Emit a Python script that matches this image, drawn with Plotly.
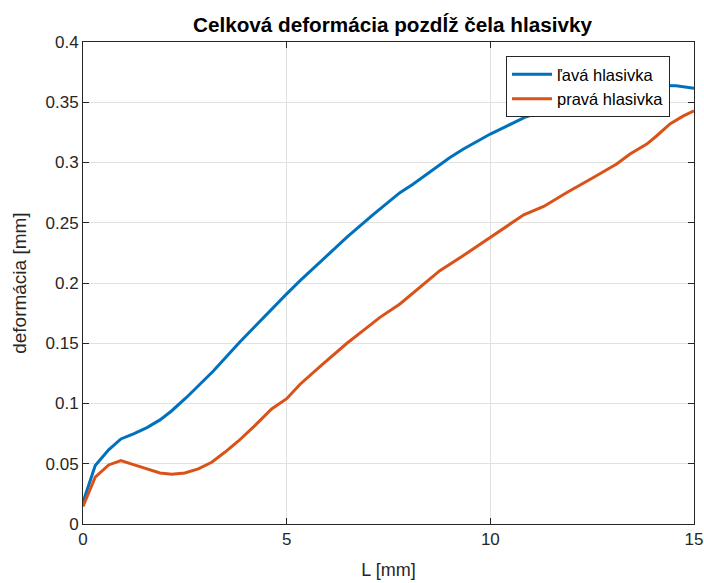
import plotly.graph_objects as go

# Total deformation along the vocal fold edge
x_left = [0.0, 0.30, 0.63, 0.93, 1.24, 1.57, 1.89, 2.18, 2.54, 3.2, 3.85, 4.5, 5.0, 5.33,
          5.82, 6.48, 7.13, 7.54, 7.78, 8.1, 8.43, 9.0, 9.33, 10.0, 10.39, 10.88, 11.29,
          11.6, 12.0, 12.5, 13.0, 13.5, 14.0, 14.56, 15.0]
y_left = [0.018, 0.0485, 0.0615, 0.0706, 0.0748, 0.080, 0.0864, 0.094, 0.105, 0.127, 0.151,
          0.174, 0.191, 0.202, 0.217, 0.238, 0.257, 0.268, 0.275, 0.282, 0.290, 0.304, 0.311,
          0.3236, 0.330, 0.338, 0.3423, 0.3456, 0.350, 0.355, 0.359, 0.362, 0.364, 0.3636,
          0.3617]

x_right = [0.0, 0.30, 0.63, 0.93, 1.24, 1.57, 1.89, 2.18, 2.5, 2.83, 3.16, 3.48, 3.81, 4.22,
           4.63, 5.0, 5.33, 5.9, 6.48, 6.97, 7.29, 7.78, 8.27, 8.76, 9.33, 10.0, 10.33, 10.82,
           11.31, 11.88, 12.53, 13.1, 13.43, 13.84, 14.08, 14.41, 14.74, 15.0]
y_right = [0.0145, 0.0388, 0.049, 0.0527, 0.0493, 0.0458, 0.0424, 0.0413, 0.0424, 0.0458,
           0.0512, 0.0595, 0.0687, 0.0817, 0.0955, 0.104, 0.116, 0.133, 0.150, 0.163, 0.1715,
           0.1826, 0.1964, 0.2102, 0.2226, 0.2378, 0.2448, 0.2566, 0.2635, 0.2751, 0.2876,
           0.2987, 0.307, 0.3153, 0.322, 0.332, 0.3387, 0.3429]

x_ticks = [0, 5, 10, 15]
y_ticks = [0, 0.05, 0.1, 0.15, 0.2, 0.25, 0.3, 0.35, 0.4]
y_labels = ["0", "0.05", "0.1", "0.15", "0.2", "0.25", "0.3", "0.35", "0.4"]

FONT = "Liberation Sans, Arial, Helvetica, sans-serif"
INK = "#262626"

fig = go.Figure()
fig.add_trace(go.Scatter(x=x_left, y=y_left, mode="lines", name="ľavá hlasivka",
                         line=dict(color="#0072BD", width=3)))
fig.add_trace(go.Scatter(x=x_right, y=y_right, mode="lines", name="pravá hlasivka",
                         line=dict(color="#D95319", width=3)))

axis_common = dict(
    automargin=False,
    showline=True, linecolor=INK, linewidth=1, mirror="ticks",
    ticks="inside", ticklen=6, tickcolor=INK, tickwidth=1,
    showgrid=True, gridcolor="#e1e1e1", gridwidth=1,
    zeroline=False, tickfont=dict(family=FONT, size=17, color=INK),
)

fig.update_xaxes(range=[0, 15], tickvals=x_ticks,
                 title=dict(text="L [mm]", font=dict(family=FONT, size=18, color=INK), standoff=14),
                 **axis_common)
fig.update_yaxes(range=[0, 0.4], tickvals=y_ticks, ticktext=y_labels, **axis_common)

# y-axis label placed further out, as a rotated annotation
fig.add_annotation(text="deformácia [mm]", xref="paper", yref="paper",
                   x=-0.105, y=0.5, xanchor="center", yanchor="middle",
                   textangle=-90, showarrow=False,
                   font=dict(family=FONT, size=19, color=INK))

fig.update_layout(
    width=704, height=583,
    margin=dict(l=83, r=10, t=42, b=59),
    paper_bgcolor="white", plot_bgcolor="white",
    title=dict(text="<b>Celková deformácia pozdĺž čela hlasivky</b>",
               font=dict(family=FONT, size=20.7, color="black"),
               x=0.5575, xanchor="center", y=0.958, yanchor="middle"),
    legend=dict(x=0.8265, y=0.971, xanchor="center", yanchor="top",
                bgcolor="white", bordercolor=INK, borderwidth=1,
                font=dict(family=FONT, size=16.5, color="black"),
                tracegroupgap=0, itemwidth=40),
    showlegend=True,
)

fig.write_html("out.html")
